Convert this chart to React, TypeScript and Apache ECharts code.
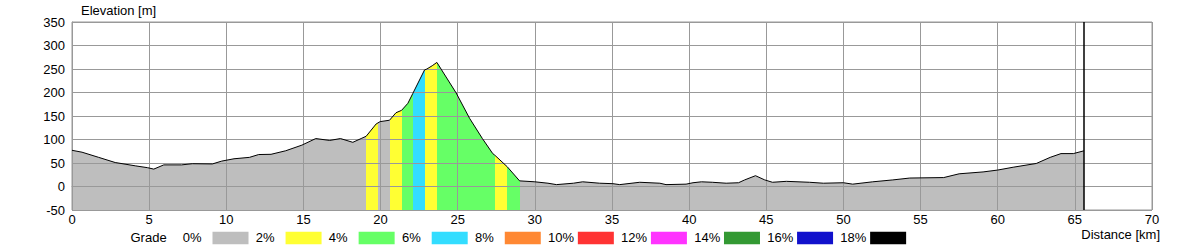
import React, { useEffect, useRef } from "react";
import * as echarts from "echarts";

// Profile samples
const distanceKm = [
  0, 0.65, 1.73, 2.8, 4.1, 4.9, 5.3, 5.95, 7.1, 7.8, 9.1, 9.7, 10.5, 11.5, 12.1, 12.9, 13.85, 14.9,
  15.8, 16.7, 17.4, 18.2, 18.74, 19.07, 19.71, 19.97, 20.58, 21.0, 21.36, 21.77, 22.09, 22.85, 23.0,
  23.35, 23.65, 24.9, 25.77, 26.6, 27.27, 27.39, 28.21, 29.01, 30.0, 30.85, 31.4, 32.5, 33.1, 34.2,
  35.06, 35.5, 36.8, 38.1, 38.5, 39.8, 40.25, 40.8, 41.5, 42.4, 43.2, 43.6, 44.3, 44.9, 45.4, 46.3,
  47.8, 48.7, 50.0, 50.6, 51.9, 53.2, 54.3, 56.5, 57.5, 59.05, 60.0, 61.0, 62.5, 63.4, 64.1, 64.9, 65.6,
];
const elevationM = [
  77, 73, 62, 51, 44, 40, 37, 46, 46, 48.5, 48, 54, 59, 62, 68, 68.5, 76, 88,
  102, 98, 102, 94, 102, 107, 133, 138, 141, 157, 162, 177, 198, 248, 250,
  257, 264, 199, 145, 102, 70, 67, 42, 12, 10, 7, 4, 7, 10, 7,
  6, 4, 9, 7, 4, 5, 8, 10, 9, 7, 8, 14, 23, 14, 9, 11,
  9, 7, 8, 5, 10, 14, 18, 19, 27, 31, 35, 41, 49, 62, 70, 70, 76,
];

// Grade segments (start km, grade class index into gradeLabels/gradeColors)
const segmentStartKm = [0, 19.07, 19.82, 20.58, 21.36, 22.09, 22.85, 23.65, 27.39, 28.21, 29.01];
const segmentGradeClass = [0, 1, 0, 1, 2, 3, 1, 2, 1, 2, 0];

const gradeLabels = ["0%", "2%", "4%", "6%", "8%", "10%", "12%", "14%", "16%", "18%"];
const gradeColors = [
  "#bebebe", "#ffff33", "#66ff66", "#33ddff", "#ff8833",
  "#ff3333", "#ff33ff", "#339933", "#1111cc", "#000000",
];

const FONT = "'Liberation Sans', Arial, sans-serif";

export default function App() {
  const ref = useRef<HTMLDivElement>(null);

  useEffect(() => {
    const chart = echarts.init(ref.current!, null, { renderer: "svg" });
    const data = distanceKm.map((d, i) => [d, elevationM[i]]);
    const endKm = distanceKm[distanceKm.length - 1];
    const pieces = segmentStartKm.map((s, i) => ({
      gte: i === 0 ? -10 : s,
      lt: i < segmentStartKm.length - 1 ? segmentStartKm[i + 1] : 1000,
      color: gradeColors[segmentGradeClass[i]],
    }));

    const legend: any[] = [
      {
        type: "text",
        x: 130.5,
        y: 237.5,
        style: { text: "Grade", fill: "#000", fontSize: 13, fontFamily: FONT, align: "left", verticalAlign: "middle" },
      },
    ];
    gradeLabels.forEach((lab, i) => {
      const bx = 212.5 + 73.07 * i;
      legend.push({
        type: "text",
        x: bx - 29.8,
        y: 237.5,
        style: { text: lab, fill: "#000", fontSize: 13, fontFamily: FONT, align: "left", verticalAlign: "middle" },
      });
      legend.push({
        type: "rect",
        shape: { x: bx, y: 231.7, width: 36, height: 12.6 },
        style: { fill: gradeColors[i] },
      });
    });

    const axisCommon = {
      type: "value" as const,
      z: 3,
      axisLine: { show: true, lineStyle: { color: "#999", width: 1 } },
      axisTick: { show: false },
      splitLine: { show: true, lineStyle: { color: "#999", width: 1 } },
    };

    chart.setOption({
      animation: false,
      backgroundColor: "#fff",
      grid: { left: 72, right: 48, top: 22, bottom: 40, show: true, borderColor: "#999", borderWidth: 1 },
      xAxis: {
        ...axisCommon,
        min: 0,
        max: 70,
        interval: 5,
        axisLabel: { color: "#000", fontSize: 13, fontFamily: FONT, margin: 3 },
      },
      yAxis: {
        ...axisCommon,
        min: -50,
        max: 350,
        interval: 50,
        axisLabel: { color: "#000", fontSize: 13, fontFamily: FONT, margin: 7 },
      },
      visualMap: {
        type: "piecewise",
        show: false,
        dimension: 0,
        seriesIndex: 0,
        pieces,
      },
      series: [
        {
          type: "line",
          data,
          z: 1,
          symbol: "none",
          showSymbol: false,
          lineStyle: { color: "#000", width: 0 },
          areaStyle: { opacity: 1, origin: "start" },
          silent: true,
        },
        {
          type: "line",
          data,
          z: 4,
          symbol: "none",
          showSymbol: false,
          lineStyle: { color: "#000", width: 1 },
          silent: true,
          markLine: {
            silent: true,
            symbol: ["none", "none"],
            label: { show: false },
            lineStyle: { color: "#000", type: "solid", width: 1.5 },
            data: [{ xAxis: endKm }],
          },
        },
      ],
      graphic: [
        {
          type: "text",
          x: 81,
          y: 10.5,
          style: { text: "Elevation [m]", fill: "#000", fontSize: 13, fontFamily: FONT, align: "left", verticalAlign: "middle" },
        },
        {
          type: "text",
          x: 1160,
          y: 234.5,
          style: { text: "Distance [km]", fill: "#000", fontSize: 13, fontFamily: FONT, align: "right", verticalAlign: "middle" },
        },
        ...legend,
      ],
    });

    return () => chart.dispose();
  }, []);

  return (
    <div
      ref={ref}
      style={{ position: "fixed", left: 0, top: 0, width: 1200, height: 250, background: "#fff" }}
    />
  );
}
